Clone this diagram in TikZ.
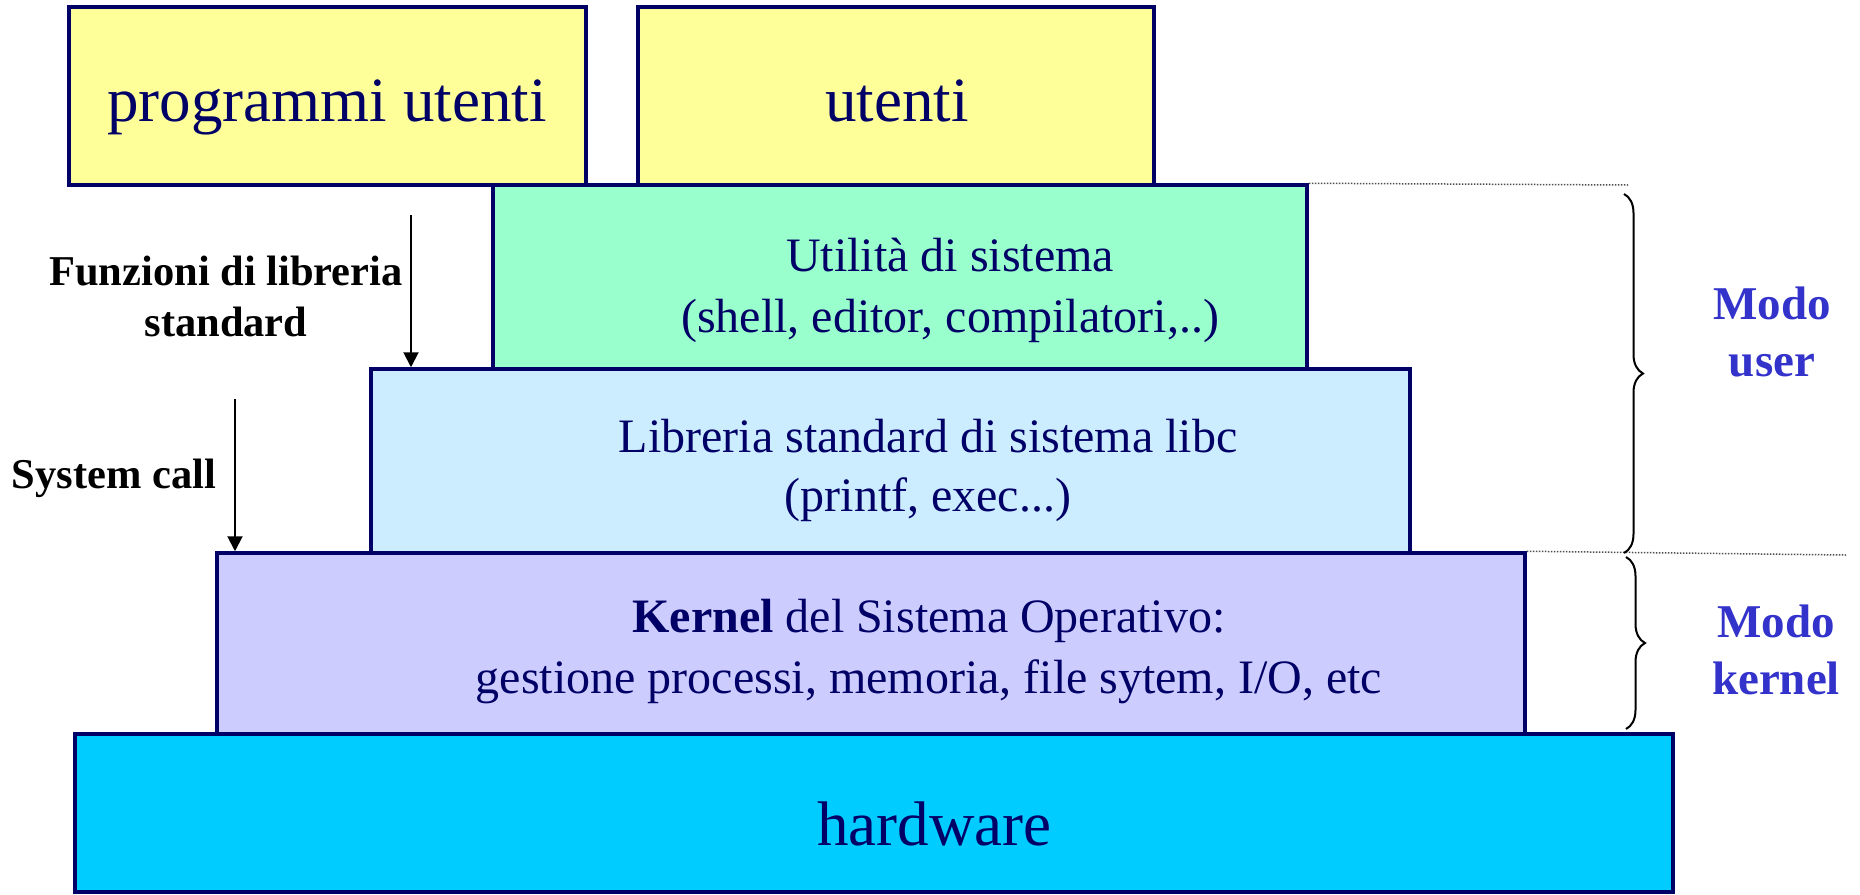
\documentclass[tikz,border=0pt]{standalone}
\usepackage{fontspec}
\setmainfont{Liberation Serif}
\usetikzlibrary{arrows.meta,decorations.pathreplacing}

\definecolor{ink}{HTML}{000066}
\definecolor{modeblue}{HTML}{3333CC}
\definecolor{fillprog}{HTML}{FFFF99}
\definecolor{fillutil}{HTML}{99FFCC}
\definecolor{filllibc}{HTML}{CCECFF}
\definecolor{fillkern}{HTML}{CCCCFF}
\definecolor{fillhw}{HTML}{00CCFF}

\begin{document}
% multi-line captions are placed by the baseline of their last line
\begin{tikzpicture}[x=1pt,y=-1pt,
  layer/.style={draw=ink, line width=3.5pt, inner sep=0pt},
  bigtext/.style={text=ink, font=\fontsize{63}{70}\selectfont, anchor=base, inner sep=0pt},
  boxtext/.style={text=ink, font=\fontsize{48}{61}\selectfont, align=center, anchor=base, inner sep=0pt},
  sidelabel/.style={text=black, font=\bfseries\fontsize{42.5}{51}\selectfont, align=center, anchor=base, inner sep=0pt},
  modelabel/.style={text=modeblue, font=\bfseries\fontsize{47}{57}\selectfont, align=center, anchor=base, inner sep=0pt},
  callarrow/.style={draw=black, line width=2pt, -{Triangle[width=15pt,length=15pt]}},
  modebrace/.style={draw=black, line width=2pt, decorate, decoration={brace, amplitude=19pt}},
  guide/.style={draw=black!70, line width=1.5pt, dash pattern=on 1.5pt off 1.5pt}]
\useasboundingbox (0,0) rectangle (1860,894);

% hardware and the software layers stacked on it
\node[layer, fill=fillhw,   minimum width=1598pt, minimum height=158pt] (hw)     at (874,813)   {};
\node[layer, fill=fillkern, minimum width=1308pt, minimum height=181pt] (kernel) at (871,643.5) {};
\node[layer, fill=filllibc, minimum width=1039pt, minimum height=184pt] (libc)   at (890.5,461) {};
\node[layer, fill=fillutil, minimum width=814pt,  minimum height=184pt] (util)   at (900,277)   {};
\node[layer, fill=fillprog, minimum width=517pt,  minimum height=178pt] (prog)   at (327.5,96)  {};
\node[layer, fill=fillprog, minimum width=516pt,  minimum height=178pt] (users)  at (896,96)    {};

% layer captions
\node[bigtext] (progtxt)  at (327,121)   {programmi utenti};
\node[bigtext] (userstxt) at (897,121)   {utenti};
\node[bigtext] (hwtxt)    at (934.5,845) {hardware};
\node[boxtext] (utiltxt)  at (950,332) {Utilità di sistema\\(shell, editor, compilatori,..)};
\node[boxtext, font=\fontsize{48}{59}\selectfont] (libctxt) at (928,511) {Libreria standard di sistema libc\\(printf, exec...)};
\node[boxtext] (kerntxt)  at (929,693) {\textbf{Kernel} del Sistema Operativo:\\gestione processi, memoria, file sytem, I/O, etc};

% interfaces between layers
\node[sidelabel] (libcalls) at (226,336) {Funzioni di libreria\\standard};
\node[sidelabel] (syscalls) at (114,488) {System call};
\coordinate (libstart) at (411,215);
\coordinate (sysstart) at (235,399);
\draw[callarrow] (libstart) -- (libstart |- libc.north);
\draw[callarrow] (sysstart) -- (sysstart |- kernel.north);

% privilege modes
\coordinate (guideA) at (1628,185);
\coordinate (guideB) at (1846,555);
\draw[guide] (util.north east) -- (guideA);
\draw[guide] (kernel.north east) -- (guideB);
\coordinate (userTop) at (1624,194);
\coordinate (userBot) at (1624,553);
\coordinate (kernTop) at (1626,557);
\coordinate (kernBot) at (1626,729);
\draw[modebrace] (userTop) -- (userBot);
\draw[modebrace] (kernTop) -- (kernBot);
\node[modelabel] (usermode) at (1772,376) {Modo\\user};
\node[modelabel] (kernmode) at (1776,694) {Modo\\kernel};
\end{tikzpicture}
\end{document}
